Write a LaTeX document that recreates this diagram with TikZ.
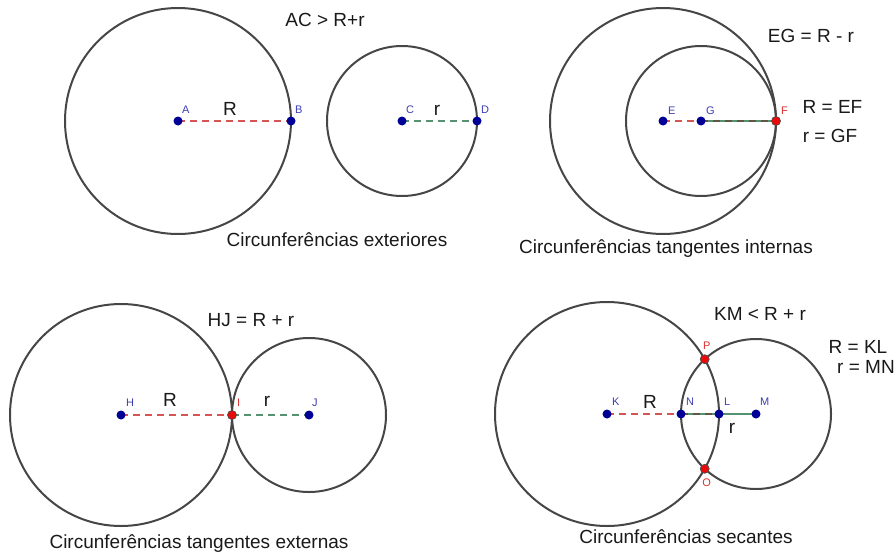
\documentclass[tikz,border=0pt]{standalone}
\usepackage{fontspec}
\setmainfont{Liberation Sans}
\usetikzlibrary{positioning}
\definecolor{circgray}{RGB}{70,70,70}
\definecolor{segred}{RGB}{214,84,84}
\definecolor{seggreen}{RGB}{86,146,112}
\definecolor{segmix}{RGB}{96,86,66}
\definecolor{ptblue}{RGB}{0,0,150}
\definecolor{ptred}{RGB}{235,10,10}
\definecolor{lblblue}{RGB}{60,60,180}
\definecolor{lblred}{RGB}{215,50,50}
\definecolor{textgray}{RGB}{25,25,25}

\begin{document}
\begin{tikzpicture}[
x=1pt, y=-1pt,
font=\fontsize{19}{22}\selectfont,
node distance=7pt and 4pt,
circ/.style={draw=circgray, line width=2pt},
rseg/.style={draw=segred, line width=2.2pt, dash pattern=on 7pt off 5pt},
gseg/.style={draw=seggreen, line width=2.2pt, dash pattern=on 7pt off 5pt},
gline/.style={draw=seggreen, line width=2.2pt},
mseg/.style={draw=segmix, line width=2.2pt, dash pattern=on 7pt off 5pt},
bdot/.style={circle, fill=ptblue, inner sep=0pt, minimum size=9pt},
rdot/.style={circle, fill=ptred, draw=black!70, line width=0.7pt, inner sep=0pt, minimum size=9pt},
lbl/.style={font=\fontsize{11}{13}\selectfont, text=lblblue, inner sep=0pt},
rlbl/.style={lbl, text=lblred},
txt/.style={anchor=base, inner sep=0pt, text=textgray}
]
\useasboundingbox (0,0) rectangle (896,554);

% exteriores
\coordinate (A) at (178,121);
\coordinate (B) at (291,121);
\coordinate (C) at (402,121);
\coordinate (D) at (477,121);
\draw[circ] (A) circle (113);
\draw[circ] (C) circle (75);
\draw[rseg] (A) -- (B);
\draw[gseg] (C) -- (D);
\foreach \p in {A,B,C,D} \node[bdot] (d\p) at (\p) {};
\node[lbl, above right=of A] (lA) {A};
\node[lbl, above right=of B] (lB) {B};
\node[lbl, above right=of C] (lC) {C};
\node[lbl, above right=of D] (lD) {D};
\node[txt] (rA) at (230,115) {R};
\node[txt] (rC) at (437,115) {r};
\node[txt] (eqA) at (325,26.7) {AC > R+r};
\node[txt] (capA) at (337,246.7) {Circunferências exteriores};

% tangentes internas
\coordinate (E) at (663,121);
\coordinate (F) at (776,121);
\coordinate (G) at (701,121);
\draw[circ] (E) circle (113);
\draw[circ] (G) circle (75);
\draw[gline] (G) -- (F);
\draw[rseg] (E) -- (G);
\draw[mseg] (G) -- (F);
\foreach \p in {E,G} \node[bdot] (d\p) at (\p) {};
\node[rdot] (dF) at (F) {};
\node[lbl, above right=6pt and 5pt of E] (lE) {E};
\node[lbl, above right=6pt and 5pt of G] (lG) {G};
\node[rlbl, above right=6pt and 5pt of F] (lF) {F};
\node[txt] (eqE) at (811,42.7) {EG = R - r};
\node[txt] (rE) at (832.5,113) {R = EF};
\node[txt] (rG) at (830,142.7) {r = GF};
\node[txt] (capE) at (666,253) {Circunferências tangentes internas};

% tangentes externas
\coordinate (H) at (121,415);
\coordinate (I) at (232,415);
\coordinate (J) at (309,415);
\draw[circ] (H) circle (111);
\draw[circ] (J) circle (77);
\draw[rseg] (H) -- (I);
\draw[gseg] (I) -- (J);
\foreach \p in {H,J} \node[bdot] (d\p) at (\p) {};
\node[rdot] (dI) at (I) {};
\node[lbl, above right=8pt and 5pt of H] (lH) {H};
\node[rlbl, above right=8pt and 5pt of I] (lI) {I};
\node[lbl, above right=8pt and 3pt of J] (lJ) {J};
\node[txt] (rH) at (170,406.7) {R};
\node[txt] (rJ) at (267,406.7) {r};
\node[txt] (eqH) at (251,326.7) {HJ = R + r};
\node[txt] (capH) at (199,548.3) {Circunferências tangentes externas};

% secantes
\coordinate (K) at (607,414);
\coordinate (L) at (719,414);
\coordinate (M) at (756,414);
\coordinate (N) at (681,414);
\coordinate (P) at (704.7,359.2);
\coordinate (O) at (704.7,468.8);
\draw[circ] (K) circle (112);
\draw[circ] (M) circle (75);
\draw[gline] (N) -- (M);
\draw[rseg] (K) -- (N);
\draw[mseg] (N) -- (L);
\foreach \p in {K,L,M,N} \node[bdot] (d\p) at (\p) {};
\foreach \p in {P,O} \node[rdot] (d\p) at (\p) {};
\node[lbl, above right=8pt and 5pt of K] (lK) {K};
\node[lbl, above right=8pt and 5pt of N] (lN) {N};
\node[lbl, above right=8pt and 5pt of L] (lL) {L};
\node[lbl, above right=8pt and 4pt of M] (lM) {M};
\node[rlbl, above=10pt of P, xshift=2pt] (lP) {P};
\node[rlbl, below=10pt of O, xshift=2pt] (lO) {O};
\node[txt] (rK) at (650,408.3) {R};
\node[txt] (rM) at (732,433.3) {r};
\node[txt] (eqK) at (760,320.7) {KM < R + r};
\node[txt] (rL) at (858,353.3) {R = KL};
\node[txt] (rN) at (866,373.3) {r = MN};
\node[txt] (capK) at (686,543.3) {Circunferências secantes};
\end{tikzpicture}
\end{document}
